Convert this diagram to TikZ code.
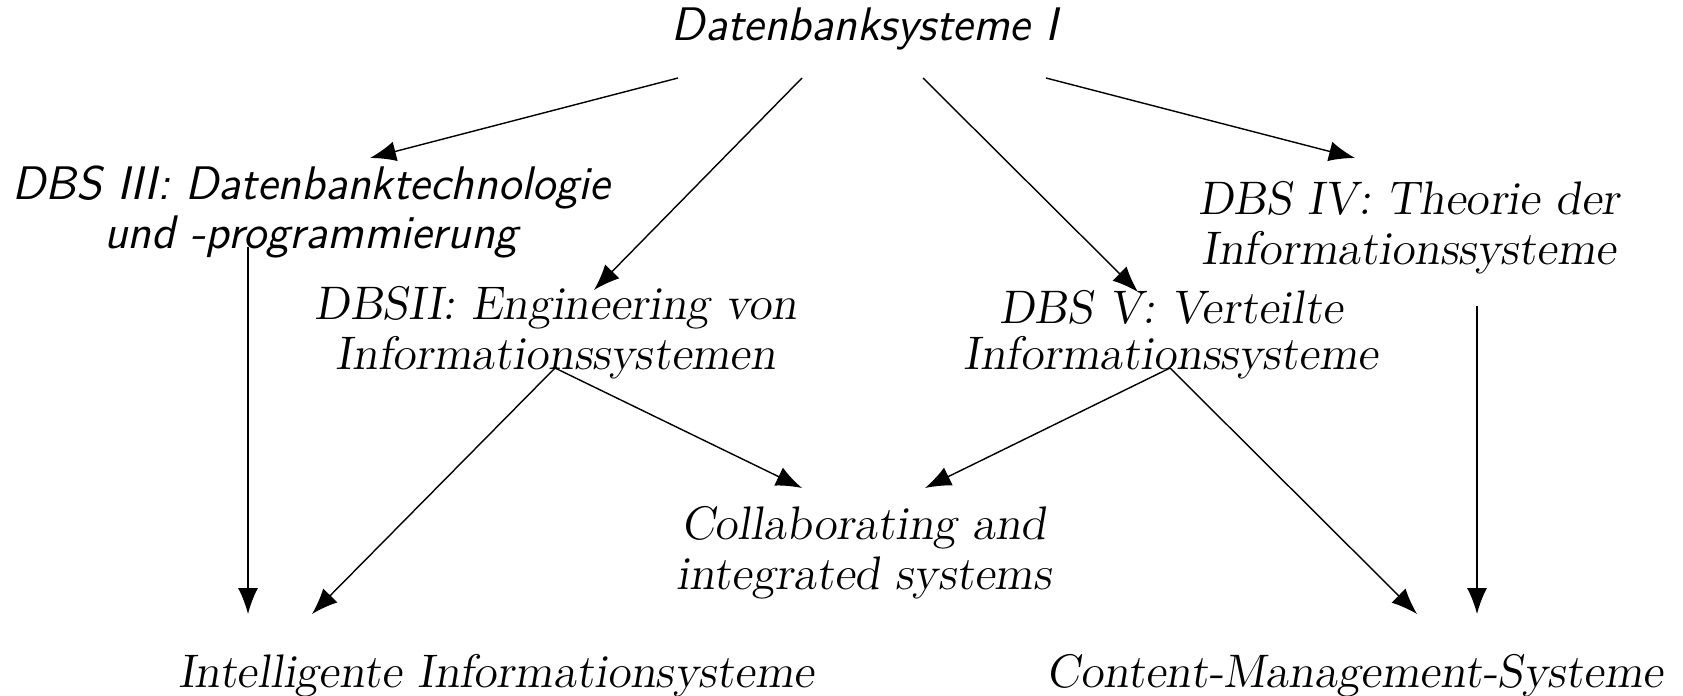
\documentclass[tikz,border=0pt]{standalone}
\usepackage{amsmath}
\usetikzlibrary{arrows.meta}

\tikzset{
    course/.style={font=\fontsize{13.4}{14.2}\selectfont\slshape, align=center, inner sep=0pt},
    coursesf/.style={font=\fontsize{13.4}{14.2}\selectfont\sffamily\slshape, align=center, inner sep=0pt},
    dep/.style={-{Latex[length=2.6mm,width=2mm]}, thin}
}

\begin{document}
\begin{tikzpicture}[scale=1]
        \useasboundingbox (0,0) rectangle (16.83,-6.96);
        % courses
        \node[coursesf, anchor=base] (dbsI) at (8.65,-0.41) {Datenbanksysteme I};
        \node[coursesf] (dbsIII) at (3.11,-2.12) {DBS III: Datenbanktechnologie\\ und -programmierung};
        \node[course] (dbsII) at (5.56,-3.33) {DBSII: Engineering von\\ Informationssystemen};
        \node[course, font=\fontsize{13.4}{13}\selectfont\slshape] (dbsV) at (11.71,-3.35) {DBS V: Verteilte\\ Informationssysteme};
        \node[course] (dbsIV) at (14.09,-2.28) {DBS IV: Theorie der\\ Informationssysteme};
        \node[course] (cis) at (8.64,-5.53) {Collaborating and\\ integrated systems};
        \node[course, anchor=base] (iis) at (4.96,-6.87) {Intelligente Informationsysteme};
        \node[course, anchor=base] (cms) at (13.55,-6.87) {Content-Management-Systeme};
        % arrow ends
        \coordinate (i1) at (6.78,-0.78);
        \coordinate (i2) at (8.02,-0.78);
        \coordinate (i3) at (9.23,-0.78);
        \coordinate (i4) at (10.46,-0.78);
        \coordinate (iii-in) at (3.70,-1.58);
        \coordinate (iii-out) at (2.48,-2.47);
        \coordinate (ii-in) at (5.94,-2.90);
        \coordinate (ii-out) at (5.55,-3.68);
        \coordinate (v-in) at (11.38,-2.92);
        \coordinate (v-out) at (11.70,-3.68);
        \coordinate (iv-in) at (13.55,-1.58);
        \coordinate (iv-out) at (14.77,-3.06);
        \coordinate (cis-l) at (8.02,-4.88);
        \coordinate (cis-r) at (9.25,-4.88);
        \coordinate (iis-l) at (2.48,-6.14);
        \coordinate (iis-r) at (3.12,-6.14);
        \coordinate (cms-l) at (14.17,-6.14);
        \coordinate (cms-r) at (14.77,-6.14);
        % dependencies
        \draw[dep] (i1) -- (iii-in);
        \draw[dep] (i2) -- (ii-in);
        \draw[dep] (i3) -- (v-in);
        \draw[dep] (i4) -- (iv-in);
        \draw[dep] (iii-out) -- (iis-l);
        \draw[dep] (ii-out) -- (iis-r);
        \draw[dep] (ii-out) -- (cis-l);
        \draw[dep] (v-out) -- (cis-r);
        \draw[dep] (v-out) -- (cms-l);
        \draw[dep] (iv-out) -- (cms-r);

    \end{tikzpicture}
\end{document}
